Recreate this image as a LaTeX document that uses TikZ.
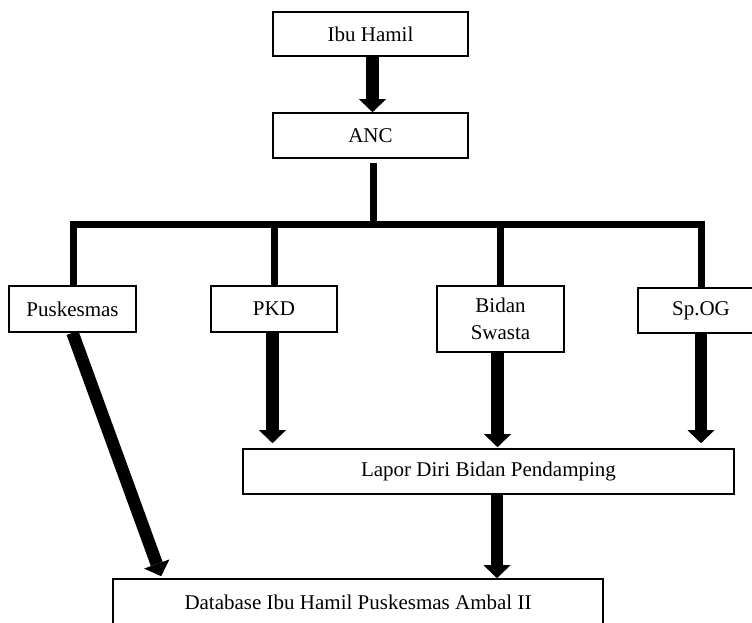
\documentclass[tikz,border=0pt]{standalone}
\usepackage{fontspec}
\setmainfont{Liberation Serif}
\usetikzlibrary{arrows.meta,calc}
\begin{document}
\begin{tikzpicture}[x=1pt,y=-1pt,
  box/.style={draw=black,line width=1.6pt,fill=white,inner sep=0pt,align=center,
    font=\fontsize{21}{27}\selectfont},
  bar/.style={line width=7pt,line join=miter,line cap=butt},
  arr/.style={line width=12.5pt,-{Triangle[width=27pt,length=13pt,line width=0pt]}}]
\useasboundingbox (0,0) rectangle (752,623);
\fill[white] (0,0) rectangle (752,623);
% boxes
\node[box,minimum width=195pt,minimum height=44pt] (ibu) at (370.5,34) {Ibu Hamil};
\node[box,minimum width=195pt,minimum height=45pt] (anc) at (370.5,135.5) {ANC};
\node[box,minimum width=127pt,minimum height=46pt] (pusk) at (72.5,309) {Puskesmas};
\node[box,minimum width=126pt,minimum height=46pt] (pkd) at (274,309) {PKD};
\node[box,minimum width=127pt,minimum height=66pt] (bidan) at (500.5,319) {Bidan\\Swasta};
\node[box,minimum width=126pt,minimum height=45pt] (spog) at (701,310.5) {Sp.OG};
\node[box,minimum width=491pt,minimum height=45pt] (lapor) at (488.5,471.5) {Lapor Diri Bidan Pendamping};
\node[box,minimum width=490pt,minimum height=47pt] (db) at (358,602.5) {Database Ibu Hamil Puskesmas Ambal II};
% helper coordinates
\coordinate (barL) at (73.5,224.5);
\coordinate (barR) at (701,224.5);
\coordinate (colA) at (373.5,0);
\coordinate (colI) at (372.5,0);
\coordinate (colP) at (272.5,0);
\coordinate (colB) at (497.5,0);
\coordinate (colS) at (701,0);
\coordinate (colD) at (497,0);
% tree lines
\draw[bar] (pusk.north -| barL) -- (barL) -- (barR) -- (spog.north -| barR);
\draw[bar] ($(anc.south -| colA)+(0,4)$) -- (barL -| colA);
\draw[bar] (pkd.north) -- (pkd.north |- barL);
\draw[bar] (bidan.north) -- (bidan.north |- barL);
% arrows
\draw[arr] (ibu.south -| colI) -- (anc.north -| colI);
\draw[arr] (pkd.south -| colP) -- ($(lapor.north -| colP)+(0,-5)$);
\draw[arr] (bidan.south -| colB) -- ($(lapor.north -| colB)+(0,-1)$);
\draw[arr] (spog.south -| colS) -- ($(lapor.north -| colS)+(0,-5)$);
\draw[arr] (lapor.south -| colD) -- (db.north -| colD);
\draw[arr] (pusk.south) -- ($(db.north west)+(49,-2)$);
\end{tikzpicture}
\end{document}
